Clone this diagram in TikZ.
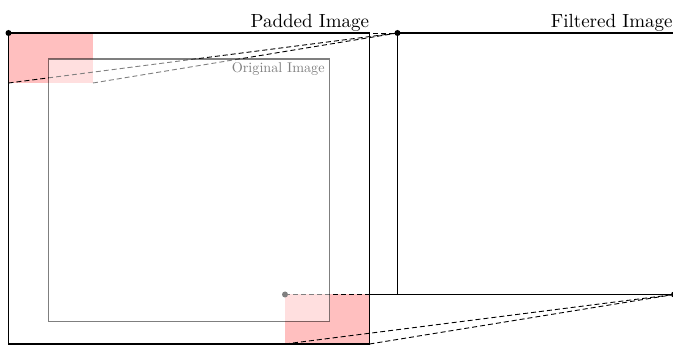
\documentclass[tikz,border=0pt]{standalone}
\begin{document}
\begin{tikzpicture}[x=0.5pt,y=-0.5pt,
  frame/.style={draw=black,line width=0.8pt},
  kernel/.style={fill=red!25},
  proj/.style={draw=black,dash pattern=on 2.5pt off 1.5pt,line width=0.45pt},
  orig/.style={fill=white,fill opacity=0.5,draw=black,draw opacity=0.5,line width=0.8pt},
  dot/.style={circle,fill=black,inner sep=0pt,minimum size=3pt},
  title/.style={font=\fontsize{9.5}{11}\selectfont,anchor=base east,inner sep=0pt},
  subtitle/.style={text=black!50,anchor=base east,inner sep=0pt}]
\useasboundingbox (0,0) rectangle (673,346);
\clip (0,0) rectangle (673,346);
% corners
\coordinate (P1) at (8.5,33);
\coordinate (P2) at (369.5,344);
\coordinate (O1) at (48.5,59);
\coordinate (O2) at (329.5,321.5);
\coordinate (F1) at (397.5,33);
\coordinate (F2) at (674,294.5);
\coordinate (KaTL) at (8.5,33);
\coordinate (KaTR) at (93,33);
\coordinate (KaBL) at (8.5,83);
\coordinate (KaBR) at (93,83);
\coordinate (KbTL) at (285,294.5);
\coordinate (KbTR) at (369.5,294.5);
\coordinate (KbBL) at (285,344);
\coordinate (KbBR) at (369.5,344);
% kernels
\fill[kernel] (KaTL) rectangle (KaBR);
\fill[kernel] (KbTL) rectangle (KbBR);
% frames
\draw[frame] (P1) rectangle (P2);
\draw[frame] (F1) rectangle (F2);
% projections
\draw[proj] (KaTR) -- (F1);
\draw[proj] (KaBL) -- (F1);
\draw[proj] (KaBR) -- (F1);
\draw[proj] (KbTL) -- (F2);
\draw[proj] (KbTR) -- (F2);
\draw[proj] (KbBL) -- (F2);
\draw[proj] (KbBR) -- (F2);
% dot under overlay
\node[dot] (dKb) at (KbTL) {};
% original image overlay
\draw[orig] (O1) rectangle (O2);
% dots
\node[dot] (dP) at (P1) {};
\node[dot] (dF1) at (F1) {};
\node[dot] (dF2) at (F2) {};
% labels
\node[title] (tP) at (369.5,28) {Padded Image};
\node[title] (tF) at (673,28) {Filtered Image};
\node[subtitle] (tO) at (325,73) {\scalebox{0.71}{Original Image}};
\end{tikzpicture}
\end{document}
